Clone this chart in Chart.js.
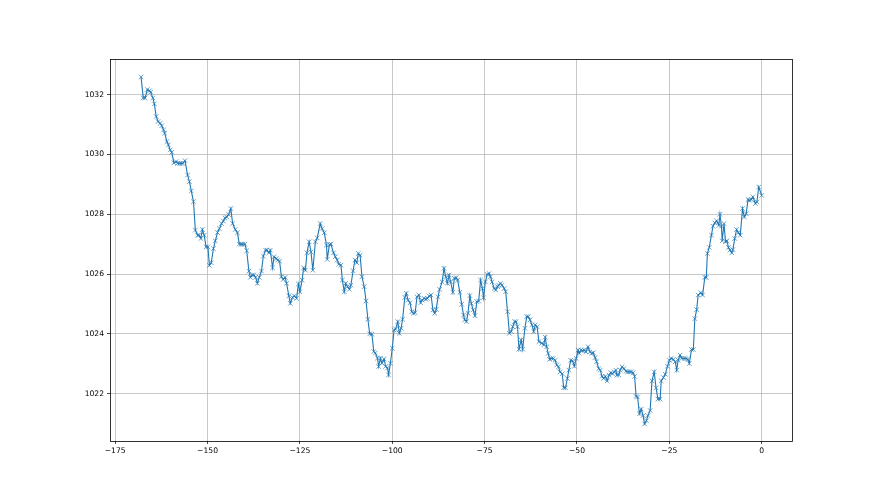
<!DOCTYPE html>
<html>
<head>
<meta charset="utf-8">
<script src="https://cdn.jsdelivr.net/npm/chart.js@4.4.1/dist/chart.umd.min.js"></script>
<style>
  html, body { margin: 0; padding: 0; background: #ffffff; }
  #wrap { width: 880px; height: 495px; position: relative; }
</style>
</head>
<body>
<div id="wrap"><canvas id="c"></canvas></div>
<script>
// hours relative to the last observation
const hours = [
-168.0,-167.4,-166.9,-166.3,-165.7,-165.4,-164.8,-164.4,-163.9,-163.4,
-162.8,-162.4,-161.9,-161.6,-161.0,-160.6,-160.1,-159.7,-159.1,-158.5,
-158.1,-157.6,-157.2,-156.7,-156.1,-155.4,-154.9,-154.4,-153.8,-153.3,
-152.7,-152.3,-151.8,-151.4,-150.9,-150.4,-149.9,-149.5,-149.0,-148.4,
-147.9,-147.3,-146.8,-146.2,-145.7,-145.3,-144.8,-144.3,-143.7,-143.2,
-142.5,-141.9,-141.4,-140.9,-140.5,-139.9,-139.4,-138.8,-138.4,-137.9,
-137.5,-137.0,-136.5,-136.0,-135.4,-134.9,-134.3,-133.9,-133.4,-133.0,
-132.4,-132.0,-131.4,-131.0,-130.5,-130.0,-129.5,-129.0,-128.6,-128.0,
-127.6,-127.0,-126.5,-125.9,-125.4,-125.0,-124.4,-124.0,-123.5,-123.1,
-122.5,-122.0,-121.5,-120.8,-120.3,-119.5,-119.0,-118.4,-117.8,-117.6,
-117.0,-116.6,-115.9,-115.4,-114.9,-114.5,-113.9,-113.5,-113.0,-112.6,
-112.1,-111.6,-111.2,-110.6,-110.1,-109.6,-109.2,-108.7,-108.2,-107.6,
-107.1,-106.6,-106.1,-105.5,-105.0,-104.6,-104.0,-103.7,-103.2,-102.8,
-102.2,-101.8,-101.3,-101.0,-100.5,-100.0,-99.5,-99.1,-98.5,-98.1,
-97.6,-97.2,-96.6,-96.2,-95.7,-95.2,-94.7,-94.3,-93.8,-93.3,
-92.8,-92.3,-91.9,-91.4,-90.9,-90.5,-90.0,-89.5,-89.0,-88.5,
-88.1,-87.6,-87.2,-86.5,-86.0,-85.5,-85.1,-84.6,-84.2,-83.6,
-83.2,-82.7,-82.3,-81.7,-81.2,-80.7,-80.4,-79.9,-79.5,-79.0,
-78.6,-78.1,-77.6,-77.1,-76.6,-76.1,-75.6,-75.3,-74.8,-74.3,
-73.8,-73.4,-73.0,-72.4,-72.0,-71.5,-71.2,-70.7,-70.3,-69.7,
-69.3,-68.8,-68.3,-67.8,-67.4,-66.9,-66.5,-66.1,-65.7,-65.1,
-64.7,-64.1,-63.6,-63.2,-62.7,-62.2,-61.7,-61.3,-60.8,-60.3,
-59.5,-59.0,-58.6,-58.2,-57.8,-57.4,-56.9,-56.4,-55.9,-55.5,
-55.0,-54.6,-54.0,-53.6,-53.1,-52.6,-52.2,-51.7,-51.2,-50.7,
-50.2,-49.7,-49.4,-48.9,-48.5,-48.0,-47.6,-47.0,-46.5,-46.0,
-45.6,-45.1,-44.7,-44.1,-43.7,-43.2,-42.8,-42.3,-41.8,-41.3,
-40.9,-40.4,-39.9,-39.5,-39.2,-38.7,-38.3,-37.8,-37.3,-36.7,
-36.3,-35.8,-35.3,-34.8,-34.4,-34.0,-33.6,-33.1,-32.6,-32.1,
-31.7,-31.2,-30.8,-30.2,-29.7,-29.1,-28.6,-28.1,-27.5,-27.2,
-26.6,-26.1,-25.5,-25.0,-24.5,-23.9,-23.4,-23.0,-22.6,-22.1,
-21.6,-21.0,-20.5,-20.0,-19.6,-19.0,-18.5,-18.1,-17.6,-17.2,
-16.5,-16.0,-15.4,-15.0,-14.7,-14.2,-13.6,-13.2,-12.7,-12.2,
-11.6,-11.3,-10.9,-10.7,-10.2,-9.8,-9.4,-9.0,-8.6,-8.1,
-7.8,-7.3,-6.8,-6.3,-5.8,-5.2,-4.7,-4.2,-3.7,-3.3,
-2.8,-2.4,-1.7,-1.3,-0.8,0.0
];

// pressure values (hPa)
const pressure = [
1032.59,1031.89,1031.89,1032.17,1032.13,1032.08,1031.89,1031.69,1031.27,1031.10,
1031.04,1030.96,1030.82,1030.71,1030.43,1030.32,1030.15,1030.07,1029.72,1029.76,
1029.70,1029.70,1029.70,1029.70,1029.79,1029.31,1029.09,1028.78,1028.42,1027.47,
1027.30,1027.30,1027.19,1027.49,1027.30,1026.91,1026.91,1026.29,1026.38,1026.85,
1027.11,1027.39,1027.52,1027.69,1027.77,1027.88,1027.91,1027.99,1028.19,1027.69,
1027.49,1027.38,1027.00,1027.00,1027.00,1027.00,1026.78,1026.10,1025.89,1025.97,
1025.97,1025.89,1025.69,1025.89,1026.10,1026.60,1026.80,1026.80,1026.71,1026.80,
1026.21,1026.58,1026.52,1026.47,1026.43,1025.91,1025.82,1025.89,1025.69,1025.27,
1025.02,1025.22,1025.27,1025.19,1025.67,1025.41,1025.80,1026.21,1026.13,1026.71,
1027.08,1026.74,1026.13,1027.08,1027.21,1027.69,1027.52,1027.38,1026.97,1026.49,
1026.99,1027.00,1026.71,1026.58,1026.47,1026.33,1026.30,1025.80,1025.41,1025.69,
1025.58,1025.49,1025.63,1026.11,1026.47,1026.38,1026.69,1026.63,1025.91,1025.58,
1025.10,1024.49,1024.00,1023.99,1023.41,1023.36,1023.19,1022.91,1023.19,1023.02,
1023.16,1022.91,1022.86,1022.63,1023.02,1023.52,1024.13,1024.16,1024.41,1024.02,
1024.19,1024.49,1025.22,1025.36,1025.13,1025.04,1024.74,1024.69,1024.71,1025.24,
1025.30,1025.04,1025.13,1025.19,1025.16,1025.19,1025.27,1025.30,1024.80,1024.69,
1024.82,1025.24,1025.49,1025.74,1026.19,1025.91,1025.69,1025.97,1025.74,1025.39,
1025.86,1025.88,1025.80,1025.39,1024.99,1024.63,1024.47,1024.41,1024.69,1025.28,
1025.02,1024.80,1024.61,1025.08,1025.10,1025.80,1025.52,1025.21,1025.74,1025.99,
1026.02,1025.91,1025.74,1025.52,1025.47,1025.58,1025.63,1025.69,1025.63,1025.52,
1025.41,1024.74,1024.02,1024.08,1024.24,1024.41,1024.41,1024.24,1023.49,1023.80,
1023.49,1024.19,1024.58,1024.58,1024.47,1024.30,1024.08,1024.30,1024.24,1023.74,
1023.69,1023.63,1023.89,1023.57,1023.35,1023.15,1023.18,1023.18,1023.12,1022.96,
1022.90,1022.73,1022.67,1022.20,1022.20,1022.51,1022.79,1023.12,1023.10,1022.92,
1023.18,1023.46,1023.35,1023.46,1023.44,1023.46,1023.40,1023.57,1023.40,1023.35,
1023.37,1023.21,1023.07,1022.84,1022.79,1022.58,1022.51,1022.58,1022.43,1022.62,
1022.70,1022.67,1022.73,1022.79,1022.62,1022.63,1022.79,1022.90,1022.84,1022.75,
1022.73,1022.73,1022.73,1022.70,1022.58,1021.91,1021.89,1021.33,1021.49,1021.27,
1020.99,1021.10,1021.27,1021.44,1022.43,1022.73,1022.20,1021.82,1021.82,1022.43,
1022.54,1022.65,1022.92,1023.12,1023.18,1023.15,1023.07,1022.79,1023.12,1023.29,
1023.18,1023.18,1023.18,1023.15,1023.01,1023.48,1023.48,1024.51,1024.81,1025.30,
1025.38,1025.30,1025.89,1025.89,1026.69,1026.89,1027.30,1027.60,1027.71,1027.78,
1027.63,1028.00,1027.60,1027.11,1027.69,1027.08,1027.11,1026.89,1026.80,1026.71,
1026.82,1027.19,1027.49,1027.38,1027.30,1028.19,1027.91,1028.02,1028.49,1028.47,
1028.49,1028.58,1028.36,1028.41,1028.91,1028.63
];

const xTicks = [-175, -150, -125, -100, -75, -50, -25, 0];
const yTicks = [1022, 1024, 1026, 1028, 1030, 1032];

const points = hours.map((h, i) => ({ x: h, y: pressure[i] }));

const frame = {
  id: 'frame',
  afterDraw(chart) {
    const a = chart.chartArea, ctx = chart.ctx;
    ctx.save();
    ctx.strokeStyle = '#000000';
    ctx.lineWidth = 0.8;
    ctx.strokeRect(Math.round(a.left) + 0.5, Math.round(a.top) + 0.5,
                   Math.round(a.right - a.left), Math.round(a.bottom - a.top));
    ctx.restore();
  }
};

const tickFont = { family: 'DejaVu Sans', size: 7.6 };
const fmt = v => String(v).replace('-', '\u2212');

new Chart(document.getElementById('c'), {
  type: 'scatter',
  data: {
    datasets: [{
      data: points,
      showLine: true,
      borderColor: '#1f77b4',
      borderWidth: 1.1,
      pointStyle: 'crossRot',
      pointRadius: 3.2,
      pointHoverRadius: 3.2,
      pointBorderWidth: 0.8,
      pointBorderColor: 'rgba(31,119,180,0.85)',
      pointBackgroundColor: '#1f77b4',
      tension: 0,
      clip: false
    }]
  },
  options: {
    responsive: true,
    maintainAspectRatio: false,
    animation: false,
    events: [],
    layout: { padding: { top: 59, right: 88, left: 0, bottom: 0 } },
    plugins: { legend: { display: false }, tooltip: { enabled: false } },
    scales: {
      x: {
        type: 'linear',
        min: -176.4,
        max: 8.2,
        afterFit(s) { s.height = 54; },
        afterBuildTicks(s) { s.ticks = xTicks.map(v => ({ value: v })); },
        grid: { color: '#b0b0b0', lineWidth: 0.7, drawTicks: true, tickLength: 3, tickColor: '#000000' },
        border: { display: false },
        ticks: { color: '#000000', font: tickFont, padding: 2, maxRotation: 0, autoSkip: false, callback: fmt }
      },
      y: {
        type: 'linear',
        min: 1020.42,
        max: 1033.19,
        afterFit(s) { s.width = 110; },
        afterBuildTicks(s) { s.ticks = yTicks.map(v => ({ value: v })); },
        grid: { color: '#b0b0b0', lineWidth: 0.7, drawTicks: true, tickLength: 3, tickColor: '#000000' },
        border: { display: false },
        ticks: { color: '#000000', font: tickFont, padding: 3, autoSkip: false, callback: fmt }
      }
    }
  },
  plugins: [frame]
});
</script>
</body>
</html>
